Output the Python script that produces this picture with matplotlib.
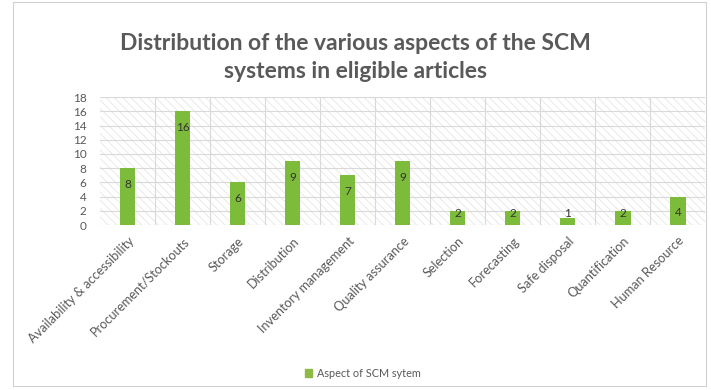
import matplotlib
matplotlib.use("Agg")
import matplotlib.pyplot as plt
import matplotlib.patches as mpatches
import numpy as np

categories = [
    "Availability & accessibility",
    "Procurement/Stockouts",
    "Storage",
    "Distribution",
    "Inventory management",
    "Quality assurance",
    "Selection",
    "Forecasting",
    "Safe disposal",
    "Quantification",
    "Human Resource",
]
counts = [8, 16, 6, 9, 7, 9, 2, 2, 1, 2, 4]
y_ticks = list(range(0, 20, 2))

BAR_COLOR = "#7DBB3A"
TEXT_COLOR = "#595959"
GRID_COLOR = "#d9d9d9"

plt.rcParams["font.family"] = ["Lato", "DejaVu Sans"]
plt.rcParams["hatch.color"] = "#e3e3e3"
plt.rcParams["hatch.linewidth"] = 0.6

fig = plt.figure(figsize=(7.11, 3.9), dpi=100)
fig.patch.set_facecolor("white")
fig.add_artist(mpatches.Rectangle((0.018, 0.01), 0.975, 0.985, transform=fig.transFigure,
                                  fill=False, edgecolor="#d0d0d0", linewidth=0.8))

ax = fig.add_axes([0.141, 0.423, 0.851, 0.328])
x = np.arange(len(categories))

# hatched plot area
ax.add_patch(mpatches.Rectangle((0, 0), 1, 1, transform=ax.transAxes, facecolor="white",
                                hatch="\\\\\\\\", edgecolor="#e6e6e6", linewidth=0, zorder=0))

ax.bar(x, counts, width=0.28, color=BAR_COLOR, zorder=3)
for xi, v in zip(x, counts):
    ax.text(xi, max(v - 2.3, 1.6), str(v), ha="center", va="center",
            fontsize=8.5, color="#333333", zorder=4)

ax.set_xlim(-0.5, len(categories) - 0.5)
ax.set_ylim(0, 18)
ax.set_yticks(y_ticks)
ax.set_yticklabels([str(t) for t in y_ticks], fontsize=8.5, color=TEXT_COLOR)
ax.set_xticks(x)
ax.set_xticklabels(categories, rotation=45, ha="right", rotation_mode="anchor",
                   fontsize=9.2, color=TEXT_COLOR)
ax.tick_params(length=0)
ax.tick_params(axis="x", pad=7)
ax.tick_params(axis="y", pad=10)

for yv in y_ticks[1:]:
    ax.axhline(yv, color=GRID_COLOR, linewidth=0.8, zorder=1)
for xv in np.arange(0.5, len(categories) - 0.5, 1):
    ax.axvline(xv, color=GRID_COLOR, linewidth=0.8, zorder=1)
for s in ax.spines.values():
    s.set_visible(False)
ax.axhline(0, color="#d9d9d9", linewidth=0.8, zorder=2)

fig.text(0.5, 0.853, "Distribution of the various aspects of the SCM\nsystems in eligible articles",
         ha="center", va="center", fontsize=16.5, fontweight="bold", color=TEXT_COLOR,
         linespacing=1.42)

handle = mpatches.Patch(color="#8DB945", label="Aspect of SCM sytem")
fig.legend(handles=[handle], loc="center", bbox_to_anchor=(0.51, 0.043), frameon=False,
           fontsize=7.8, handlelength=0.7, handleheight=0.7, handletextpad=0.4,
           labelcolor=TEXT_COLOR)

fig.savefig("out.png", dpi=100)
